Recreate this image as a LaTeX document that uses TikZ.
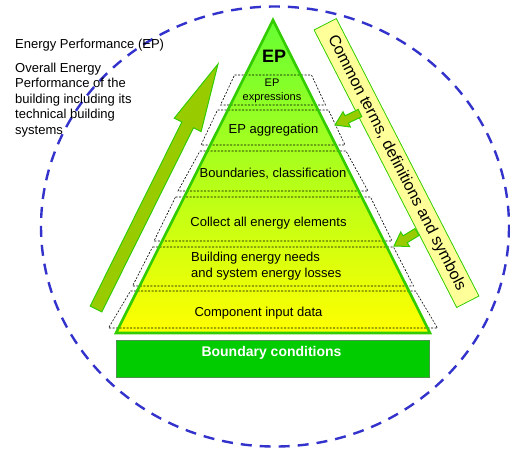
\documentclass[tikz,border=0pt]{standalone}
\usepackage{fontspec}
\setmainfont{Liberation Sans}
\usetikzlibrary{calc}

\definecolor{epedge}{RGB}{51,204,0}
\definecolor{eptop}{RGB}{102,255,51}
\definecolor{epbottom}{RGB}{255,255,0}
\definecolor{bcgreen}{RGB}{0,204,0}
\definecolor{arrowolive}{RGB}{153,204,0}
\definecolor{bannerfill}{RGB}{255,255,153}
\definecolor{ringblue}{RGB}{51,51,204}

% fat block arrow: start, tip, shaft half width, head half width, head length (pt)
\newcommand{\fatarrow}[5]{%
  \coordinate (fa-b) at ($(#2)!#5pt!(#1)$);
  \filldraw[olivearrow] ($(#1)!#3pt!90:(#2)$) -- ($(fa-b)!#3pt!-90:(#1)$)
    -- ($(fa-b)!#4pt!-90:(#1)$) -- (#2) -- ($(fa-b)!#4pt!90:(#1)$)
    -- ($(fa-b)!#3pt!90:(#1)$) -- ($(#1)!#3pt!-90:(#2)$) -- cycle;}

\begin{document}
\begin{tikzpicture}[x=1pt, y=-1pt,
    ring/.style={ringblue, line width=2.4pt, dash pattern=on 11pt off 8pt},
    layerbox/.style={black, line width=.6pt, dash pattern=on 2pt off 1.5pt},
    olivearrow/.style={fill=arrowolive, draw=epedge, line width=1pt, line join=miter},
    label/.style={inner sep=0, font=\fontsize{13}{15.5}\selectfont},
    small/.style={inner sep=0, align=center, font=\fontsize{11}{14}\selectfont}]
  \useasboundingbox (0,0) rectangle (510,448);

  \draw[ring] (275,226.5) ellipse [x radius=234, y radius=220];

  % pyramid
  \shade[top color=eptop, bottom color=epbottom] (273,20) -- (430,333) -- (116,333) -- cycle;
  \foreach \yt/\ht/\yb/\hb in {75/38.5/105/52.5, 110/55.5/145/72, 151/73/191/95,
      197/97.5/241/119, 247/120.5/286/140.5, 291/142.5/328/164.5} {
      \draw[layerbox] ({273-\ht},\yt) -- ({273+\ht},\yt) -- ({273+\hb},\yb) -- ({273-\hb},\yb) -- cycle;
    }
  \draw[epedge, line width=2.6pt, line join=miter] (273,20) -- (430,333) -- (116,333) -- cycle;

  \node[inner sep=0, font=\fontsize{18}{18}\selectfont\bfseries] (ep) at (274,56) {EP};
  \node[small] (expr) at (272,91) {EP\\expressions};
  \node[label] (aggr) at (273.5,130) {EP aggregation};
  \node[label] (bound) at (273,174) {Boundaries, classification};
  \node[label] (collect) at (268.5,223) {Collect all energy elements};
  \node[label, align=left, anchor=west] (needs) at (191,266) {Building energy needs\\and system energy losses};
  \node[label] (input) at (258.5,313) {Component input data};

  \node[fill=bcgreen, draw=green!40!black!70, line width=.8pt, minimum width=313, minimum height=37] (bc) at (272.5,358.5) {};
  \node[inner sep=0, text=white, font=\fontsize{14}{14}\selectfont\bfseries] (bctext) at (271.5,353) {Boundary conditions};

  % left side
  \node[label, anchor=north west] (eptitle) at (15,38.5) {Energy Performance (EP)};
  \node[label, align=left, anchor=north west] (epdef) at (15,62.5)
    {Overall Energy\\Performance of the\\building including its\\technical building\\systems};
  \coordinate (upfoot) at (96,309);
  \coordinate (uptip) at (218,64);
  \fatarrow{upfoot}{uptip}{6.5}{15}{68}

  % right banner
  \node[fill=bannerfill, draw=epedge, line width=.8pt, rotate=-62.8, minimum width=312, minimum height=25,
    inner sep=0, font=\fontsize{16}{16}\selectfont] (terms) at (396.5,163) {Common terms, definitions and symbols};
  \coordinate (aggtail) at (360,113);
  \coordinate (aggtip) at (335,125);
  \coordinate (needtail) at (417,232);
  \coordinate (needtip) at (394,246);
  \fatarrow{aggtail}{aggtip}{4}{8.5}{13}
  \fatarrow{needtail}{needtip}{4}{8.5}{13}
\end{tikzpicture}
\end{document}
